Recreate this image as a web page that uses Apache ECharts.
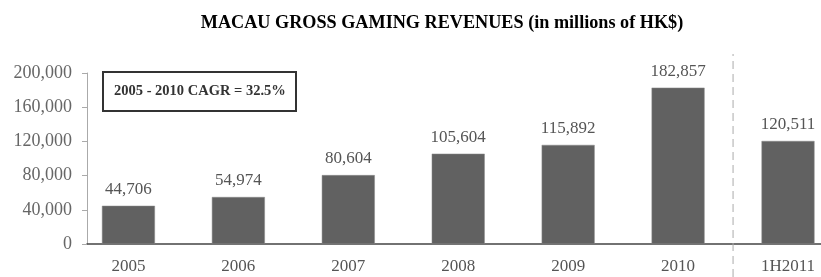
<!DOCTYPE html>
<html><head><meta charset="utf-8">
<script src="https://cdn.jsdelivr.net/npm/echarts@6/dist/echarts.min.js"></script>
<style>html,body{margin:0;padding:0;background:#fff}#c{width:821px;height:277px}</style>
</head><body><div id="c"></div>
<script>
var categories = ['2005','2006','2007','2008','2009','2010','1H2011'];
var revenues = [44706, 54974, 80604, 105604, 115892, 182857, 120511];
var yTicks = [0, 40000, 80000, 120000, 160000, 200000];
var titleText = 'MACAU GROSS GAMING REVENUES (in millions of HK$)';
var cagrText = '2005 - 2010 CAGR = 32.5%';
var dividerAt = 5.5;

var serif = '"Liberation Serif", "DejaVu Serif", serif';
var idx = categories.map(function(_, i){ return i; });
var fmt = function(v){ return v.toString().replace(/\B(?=(\d{3})+(?!\d))/g, ','); };

var chart = echarts.init(document.getElementById('c'), null, {renderer:'canvas'});
chart.setOption({
  animation: false,
  backgroundColor: '#fff',
  title: [
    {text: titleText, left: 437, top: 9, textAlign: 'center',
     textStyle: {fontFamily: serif, fontWeight: 'bold', fontSize: 18.2, color: '#000'}},
    {text: cagrText, left: 103, top: 72, borderColor: '#333', borderWidth: 2,
     padding: [12, 10, 12, 11],
     textStyle: {fontFamily: serif, fontWeight: 'bold', fontSize: 14.5, color: '#333'}}
  ],
  grid: [
    {left: 87, right: 0, top: 73, bottom: 33},
    {left: 87, right: 0, top: 54, bottom: 0}
  ],
  xAxis: [
    {type: 'value', gridIndex: 0, min: -0.377, max: 6.3,
     axisLine: {show: true, onZero: false, lineStyle: {color: '#444', width: 1.5}},
     axisTick: {show: false}, splitLine: {show: false},
     axisLabel: {customValues: idx, margin: 14, fontFamily: serif, fontSize: 17, color: '#555',
                 formatter: function(v){ return categories[Math.round(v)]; }}},
    {type: 'value', gridIndex: 1, min: -0.377, max: 6.3, show: false}
  ],
  yAxis: [
    {type: 'value', gridIndex: 0, min: 0, max: 200000, interval: 40000,
     axisLine: {show: true, onZero: false, lineStyle: {color: '#aaa'}},
     axisTick: {show: true, length: 5, inside: false, lineStyle: {color: '#aaa'}},
     splitLine: {show: false},
     axisLabel: {margin: 15, fontFamily: serif, fontSize: 18, color: '#666', formatter: fmt}},
    {type: 'value', gridIndex: 1, min: 0, max: 1, show: false}
  ],
  series: [
    {type: 'bar', xAxisIndex: 0, yAxisIndex: 0, barWidth: 53,
     data: revenues.map(function(v, i){ return [i, v]; }),
     itemStyle: {color: '#616161', borderColor: '#8a8a8a', borderWidth: 0.5},
     label: {show: true, position: 'top', distance: 8, fontFamily: serif, fontSize: 17, color: '#555',
             formatter: function(p){ return fmt(p.value[1]); }}},
    {type: 'line', xAxisIndex: 1, yAxisIndex: 1, symbol: 'none',
     data: [[dividerAt, 0], [dividerAt, 1]],
     lineStyle: {color: '#aaa', width: 1, type: [8, 5]}}
  ]
});
</script></body></html>
